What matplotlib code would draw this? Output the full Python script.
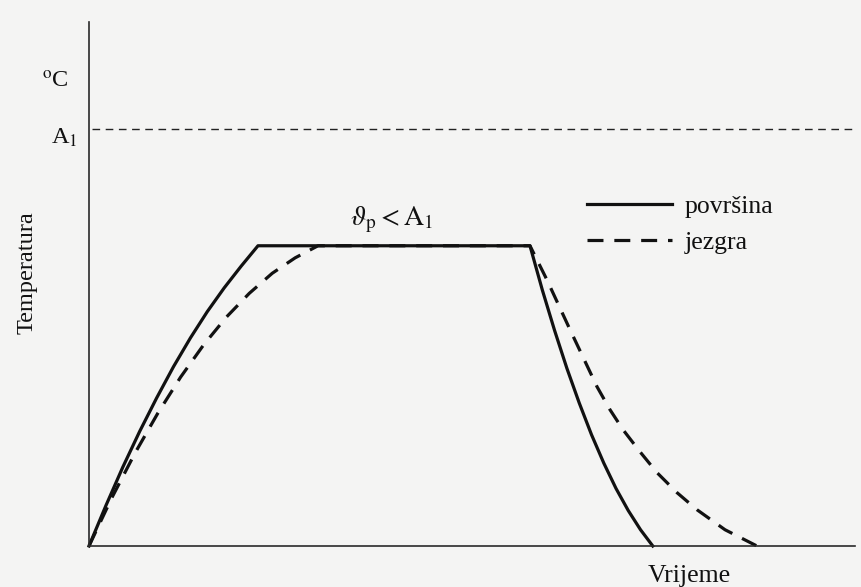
import matplotlib
matplotlib.use("Agg")
import matplotlib.pyplot as plt

plt.rcParams['font.family'] = ['Liberation Serif', 'DejaVu Serif']
plt.rcParams['mathtext.fontset'] = 'stix'

# ---- data (time in arbitrary units 0..100, temperature with A1 = 100) ----
A1 = 100
t_surface = [0, 2.21, 4.41, 6.62, 8.83, 11.03, 13.24, 15.44, 17.65, 19.86, 22.06,
             57.57, 59.18, 60.78, 62.39, 64.0, 65.6, 67.2, 68.8, 70.4, 72.0, 73.6]
T_surface = [0, 9.7, 18.9, 27.5, 35.5, 43.0, 49.9, 56.2, 61.9, 67.1, 72,
             72, 61.4, 51.7, 42.6, 34.3, 26.7, 19.9, 13.8, 8.5, 3.9, 0]
t_core = [0, 2.99, 5.98, 8.97, 11.96, 14.95, 17.94, 20.93, 23.92, 26.91, 29.9,
          57.57, 59.79, 62.79, 66.32, 68.01, 69.71, 71.93, 74.15, 76.76, 79.37, 83.03, 87.2]
T_core = [0, 11.6, 22.2, 31.8, 40.5, 48.2, 54.9, 60.6, 65.4, 69.1, 72,
          72, 63.8, 51.9, 38.2, 32.7, 27.9, 22.6, 17.6, 12.8, 8.7, 3.9, 0]
labels = ['površina', 'jezgra']

W, H = 862, 587
fig = plt.figure(figsize=(W / 100, H / 100), dpi=100)
bg = '#f4f4f3'
fig.patch.set_facecolor(bg)

def fx(px):
    return px / W

def fy(py):
    return 1 - py / H

ax = fig.add_axes([fx(89), fy(546), (855 - 89) / W, (546 - 22) / H])
ax.set_facecolor(bg)
ax.set_xlim(0, 100)
ax.set_ylim(0, (546 - 22) / 4.17)
for s in ['top', 'right']:
    ax.spines[s].set_visible(False)
for s in ['left', 'bottom']:
    ax.spines[s].set_linewidth(1.2)
    ax.spines[s].set_color('#2a2a2a')
ax.set_xticks([])
ax.set_yticks([])

ink = '#111111'
ax.plot(t_surface, T_surface, color=ink, lw=2.3, clip_on=False,
        solid_joinstyle='round', label=labels[0])
ax.plot(t_core, T_core, color=ink, lw=2.3, clip_on=False,
        linestyle=(0, (5.0, 3.4)), label=labels[1])
ax.axhline(A1, xmin=0.004, xmax=1, color='#222222', lw=1.0,
           linestyle=(0, (5.5, 4)))

fs = 18.5
fig.text(fx(42), fy(88), r'$^{\mathrm{o}}$C', fontsize=17.5, ha='left', va='baseline', color=ink)
fig.text(fx(51), fy(144), r'A$_1$', fontsize=17.5, ha='left', va='baseline', color=ink)
fig.text(fx(27), fy(273), 'Temperatura', fontsize=17.5, rotation=90,
         ha='center', va='center', color=ink)
fig.text(fx(689), fy(582), 'Vrijeme', fontsize=fs, ha='center', va='baseline', color=ink)
fig.text(fx(392), fy(225), r'$\vartheta_{\mathrm{p}} < \mathrm{A}_1$', fontsize=20,
         ha='center', va='baseline', color=ink)

leg = ax.legend(loc='upper left', bbox_to_anchor=(fx(587), fy(195)),
                bbox_transform=fig.transFigure, frameon=False, fontsize=fs,
                handlelength=3.3, handletextpad=0.5, borderpad=0,
                borderaxespad=0, labelspacing=0.5)
for t in leg.get_texts():
    t.set_color(ink)

fig.savefig('out.png', dpi=100, facecolor=bg)
